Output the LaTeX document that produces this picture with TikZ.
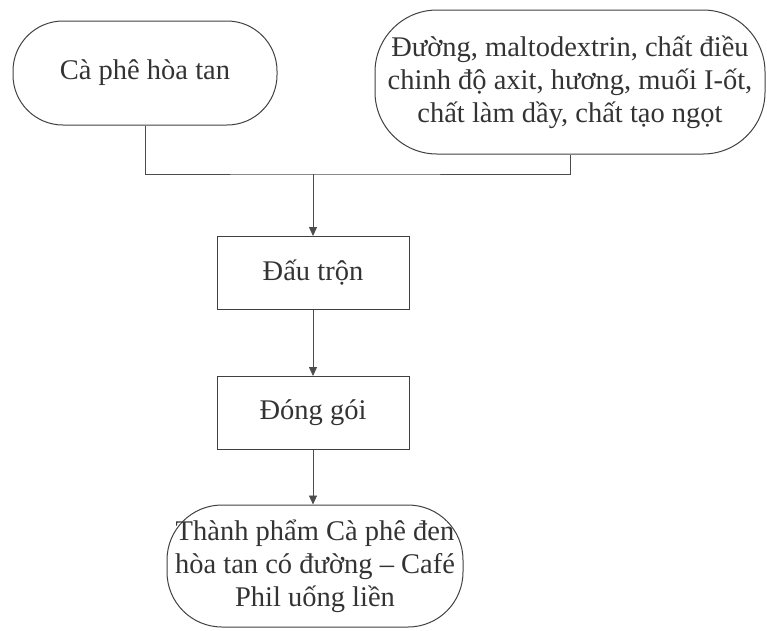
\documentclass[tikz,border=0pt]{standalone}
\usepackage{fontspec}
\setmainfont{Liberation Serif}
\usetikzlibrary{arrows.meta}
\begin{document}
\begin{tikzpicture}[x=1pt,y=-1pt,
  every node/.style={font=\fontsize{28.5}{33}\selectfont, text=black!80, align=center, inner sep=0pt},
  term/.style={draw=black!75, line width=1pt, minimum width=#1},
  procbox/.style={draw=black!75, line width=1pt, minimum width=192pt, minimum height=73pt},
  conn/.style={draw=black!70, line width=0.8pt},
  arr/.style={conn, -{Triangle[width=8pt,length=9pt]}}]
\useasboundingbox (0,0) rectangle (767,630);
\node[term=264pt, minimum height=104pt, rounded corners=50pt] (a) at (145,73) {Cà phê hòa tan};
\node[term=390pt, minimum height=144pt, rounded corners=62pt] (b) at (570,82) {Đường, maltodextrin, chất điều\\chinh độ axit, hương, muối I-ốt,\\chất làm dầy, chất tạo ngọt};
\node[procbox] (c) at (313,273) {Đấu trộn};
\node[procbox] (d) at (313,413) {Đóng gói};
\node[term=296pt, minimum height=122pt, rounded corners=55pt] (e) at (315,566) {Thành phẩm Cà phê đen\\hòa tan có đường – Café\\Phil uống liền};
\coordinate (m) at (313,174);
\draw[conn] (a.south) |- (m) -| (b.south);
\draw[arr] (m) -- (c.north);
\draw[arr] (c) -- (d);
\draw[arr] (d.south) -- (d.south |- e.north);
\end{tikzpicture}
\end{document}
